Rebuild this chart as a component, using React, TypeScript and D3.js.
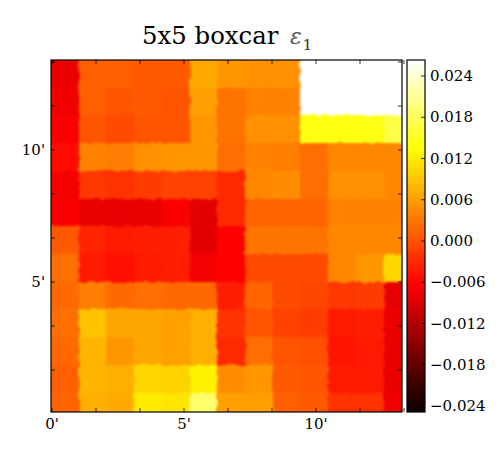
import React from "react";
import * as d3 from "d3";

// Map values, in units of 1e-3, top row first.
const row0 = [-7.7, 1.05, 1.05, 0.7, 0.7, 6.8, 5.3, 4.9, 4.9, 28, 28, 28, 28];
const row1 = [-7.3, 1.05, 0.3, 0.7, 0.3, 6.05, 2.6, 3.75, 3.75, 28, 28, 28, 28];
const row2 = [-6.6, 0.3, -0.45, 0.3, 0.3, 5.3, 2.6, 4.9, 4.9, 14.3, 14.3, 14.3, 16.9];
const row3 = [-5.4, 3.75, 3.35, 4.9, 5.3, 5.3, 2.2, 3.75, 3.35, 2.2, 4.15, 4.15, 4.15];
const row4 = [-7, -2, -2.4, -1.6, -1.2, -1.2, -3.1, 4.15, 4.5, 2.2, 4.9, 4.9, 4.15];
const row5 = [-6.6, -7.7, -8.05, -7.7, -6.6, -8.4, -3.1, 1.45, 1.45, 1.45, 3.75, 3.75, 3.75];
const row6 = [0.7, -3.5, -4.3, -3.9, -3.9, -8.4, -6.2, 2.6, 2.6, 2.6, 4.15, 4.15, 4.15];
const row7 = [2.2, -4.3, -5.05, -4.3, -3.9, -7, -6.2, -0.45, -0.45, -0.45, 4.15, 5.3, 10.25];
const row8 = [1.85, 3.35, 1.85, 2.2, 1.85, 1.85, -3.9, 1.45, -0.45, -0.85, -2, -1.6, -8.05];
const row9 = [2.2, 8.7, 6.45, 6.45, 6.05, 7.2, -2.4, 0.3, -1.2, -1.6, -4.3, -3.9, -7.7];
const row10 = [1.85, 7.6, 5.3, 6.45, 6.05, 7.2, -3.1, 2.2, 0.3, -0.1, -4.7, -4.3, -8.05];
const row11 = [1.05, 7.6, 7.2, 10.25, 9.85, 12.2, 4.5, 5.3, 0.7, 0.3, -4.3, -4.3, -7.7];
const row12 = [1.45, 7.2, 6.8, 11.8, 11.4, 18.9, 6.05, 6.05, 1.05, 0.7, -2.4, -2.4, -7.3];
const rows = [row0, row1, row2, row3, row4, row5, row6, row7, row8, row9, row10, row11, row12];

const arcTicks = [0, 5 / 3, 10 / 3, 5, 20 / 3, 25 / 3, 10, 35 / 3, 40 / 3];
const arcLabels = [0, 5, 10];
const barTicks = [-24, -18, -12, -6, 0, 6, 12, 18, 24];

const vMin = -24.9;
const vMax = 26.3;
const cellArc = 1.05;

const hot = d3
  .scaleLinear<string>()
  .domain([0, 0.365, 0.746, 1].map((t) => vMin + t * (vMax - vMin)))
  .range(["#0a0000", "#ff0000", "#ffff00", "#ffffff"])
  .clamp(true);

const L = 51, R = 402, T = 60, B = 412;
const x = d3.scaleLinear().domain([0, 5]).range([52, 184]);
const y = d3.scaleLinear().domain([0, 5]).range([414, 282]);
const barY = d3.scaleLinear().domain([0, 24]).range([241, 76]);
const barL = 407, barR = 425;
const arcLeft = x.invert(L);
const arcTop = y.invert(T);
const serif = "'DejaVu Serif', serif";

export default function App() {
  const cw = x(cellArc) - x(0);
  const ch = y(0) - y(cellArc);
  const barVals = d3.range(barY.invert(B), barY.invert(T) + 0.1, 0.15);
  return (
    <svg
      width={500}
      height={450}
      viewBox="0 0 500 450"
      style={{ position: "absolute", left: 0, top: 0, display: "block", background: "#fff" }}
    >
      <defs>
        <clipPath id="plot">
          <rect x={L} y={T} width={R - L} height={B - T} />
        </clipPath>
        <filter
          id="soft"
          filterUnits="userSpaceOnUse"
          x={0}
          y={0}
          width={500}
          height={450}
          colorInterpolationFilters="sRGB"
        >
          <feTurbulence type="fractalNoise" baseFrequency={0.16} numOctaves={1} seed={4} result="n" />
          <feDisplacementMap in="SourceGraphic" in2="n" scale={5} xChannelSelector="R" yChannelSelector="G" result="d" />
          <feGaussianBlur in="d" stdDeviation={1.1} />
        </filter>
      </defs>
      <g clipPath="url(#plot)">
        <g filter="url(#soft)">
          {rows.map((row, r) =>
            row.map((v, c) => {
              const cx = x(arcLeft + c * cellArc);
              const cy = y(arcTop - r * cellArc);
              const padL = c === 0 ? 12 : 0;
              const padT = r === 0 ? 12 : 0;
              const padR = c === row.length - 1 ? 12 : 0.5;
              const padB = r === rows.length - 1 ? 12 : 0.5;
              return (
                <rect
                  key={`${r}-${c}`}
                  x={cx - padL}
                  y={cy - padT}
                  width={cw + padL + padR}
                  height={ch + padT + padB}
                  fill={hot(v)}
                  shapeRendering="crispEdges"
                />
              );
            })
          )}
        </g>
      </g>
      <rect x={L} y={T} width={R - L} height={B - T} fill="none" stroke="#000" strokeWidth={1.2} />
      {arcTicks.map((m) => (
        <g key={`t${m}`} stroke="#000" strokeWidth={0.8}>
          <line x1={x(m)} x2={x(m)} y1={B} y2={B - 4} />
          <line x1={x(m)} x2={x(m)} y1={T} y2={T + 4} />
          {m > 0 && <line x1={L} x2={L + 4} y1={y(m)} y2={y(m)} />}
          {m > 0 && <line x1={R} x2={R - 4} y1={y(m)} y2={y(m)} />}
        </g>
      ))}
      {arcLabels.map((m) => (
        <text key={`xl${m}`} x={x(m)} y={429} textAnchor="middle" fontFamily={serif} fontSize={15} fill="#000">
          {m}'
        </text>
      ))}
      {arcLabels
        .filter((m) => m > 0)
        .map((m) => (
          <text key={`yl${m}`} x={45} y={y(m) + 5} textAnchor="end" fontFamily={serif} fontSize={15} fill="#000">
            {m}'
          </text>
        ))}
      {barVals.map((v) => (
        <rect key={v} x={barL} y={barY(v) - 1.6} width={barR - barL} height={1.6} fill={hot(v)} shapeRendering="crispEdges" />
      ))}
      <rect x={barL} y={T} width={barR - barL} height={B - T} fill="none" stroke="#000" strokeWidth={1.2} />
      {barTicks.map((v) => (
        <g key={`b${v}`}>
          <line x1={barR} x2={barR - 4} y1={barY(v)} y2={barY(v)} stroke="#000" strokeWidth={0.8} />
          <text x={430} y={barY(v) + 5.2} fontFamily={serif} fontSize={15} fill="#000">
            {`${v < 0 ? "\u2212" : ""}${(Math.abs(v) / 1000).toFixed(3)}`}
          </text>
        </g>
      ))}
      <text x={142} y={44} fontFamily={serif} fontSize={24.4} fill="#000">
        5x5 boxcar
      </text>
      <text x={290} y={44} fontFamily={serif} fontSize={22} fontStyle="italic" fill="#555">
        ε
      </text>
      <text x={302.5} y={50} fontFamily={serif} fontSize={15.5} fill="#333">
        1
      </text>
    </svg>
  );
}
